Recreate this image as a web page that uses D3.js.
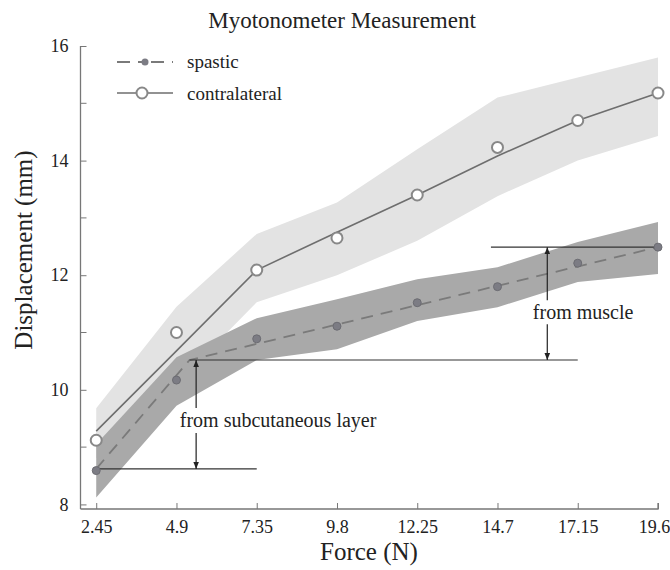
<!DOCTYPE html>
<html>
<head>
<meta charset="utf-8">
<script src="https://cdn.jsdelivr.net/npm/d3@7"></script>
<style>
    body { margin: 0; background: #fff; }
    svg text { font-family: 'Liberation Serif', 'DejaVu Serif', serif; fill: #222; }
</style>
</head>
<body>
<div id="chart"></div>
<script>
// Data
const force = [2.45, 4.9, 7.35, 9.8, 12.25, 14.7, 17.15, 19.6];
const forceTickLabels = ['2.45', '4.9', '7.35', '9.8', '12.25', '14.7', '17.15', '19.6'];
const displacementTicks = [8, 10, 12, 14, 16];
const displacementMinorTicks = [9, 11, 13, 15];

const spastic = [8.59, 10.17, 10.89, 11.11, 11.52, 11.80, 12.21, 12.49];
const spasticLow = [8.12, 9.72, 10.52, 10.71, 11.20, 11.44, 11.88, 12.02];
const spasticHigh = [9.05, 10.57, 11.25, 11.58, 11.93, 12.14, 12.58, 12.93];
const spasticFitForce = [2.45, 5.3, 19.6];
const spasticFit = [8.62, 10.52, 12.49];

const contralateral = [9.12, 11.0, 12.09, 12.65, 13.40, 14.23, 14.70, 15.18];
const contraLow = [8.8, 10.1, 11.53, 12.0, 12.6, 13.38, 14.0, 14.43];
const contraHigh = [9.68, 11.45, 12.72, 13.27, 14.2, 15.1, 15.45, 15.8];
const contraFit = [9.28, 10.68, 12.09, 12.75, 13.40, 14.08, 14.70, 15.18];

// annotation guides (force, displacement)
const subcutLine = { from: 2.45, to: 7.35, level: 8.62 };
const kneeLine = { from: 5.3, to: 17.15, level: 10.52 };
const muscleLine = { from: 14.5, to: 19.6, level: 12.49 };
const subcutArrow = { at: 5.5, top: 10.52, bottom: 8.62, label: 'from subcutaneous layer', labelAt: 5.0, labelLevel: 9.35 };
const muscleArrow = { at: 16.22, top: 12.49, bottom: 10.52, label: 'from muscle', labelAt: 15.78, labelLevel: 11.23 };

const SERIF = "'Liberation Serif', 'DejaVu Serif', serif";
const W = 670, H = 570;
const svg = d3.select('#chart').append('svg')
    .attr('width', W)
    .attr('height', H)
    .attr('font-family', SERIF);

const x = d3.scaleLinear().domain([1.97, 19.6]).range([80.5, 658]);
const y = d3.scaleLinear().domain([7.92, 16]).range([509, 46]);

const defs = svg.append('defs');
defs.append('marker')
    .attr('id', 'arrow-end')
    .attr('viewBox', '0 -5 10 10')
    .attr('refX', 10)
    .attr('refY', 0)
    .attr('markerWidth', 7)
    .attr('markerHeight', 7)
    .attr('markerUnits', 'userSpaceOnUse')
    .attr('orient', 'auto')
    .append('path')
    .attr('d', 'M0,-4L10,0L0,4Z')
    .attr('fill', '#222');

// bands
const band = (low, high) => d3.area()
    .x((d, i) => x(force[i]))
    .y0((d, i) => y(low[i]))
    .y1((d, i) => y(high[i]))(force);

svg.append('path').attr('d', band(contraLow, contraHigh)).attr('fill', '#e3e3e3');
svg.append('path').attr('d', band(spasticLow, spasticHigh)).attr('fill', '#a9a9a9');

// fitted lines
const line = d3.line().x(d => x(d[0])).y(d => y(d[1]));
svg.append('path')
    .attr('d', line(force.map((f, i) => [f, contraFit[i]])))
    .attr('fill', 'none')
    .attr('stroke', '#6e6e6e')
    .attr('stroke-width', 1.6);
svg.append('path')
    .attr('d', line(spasticFitForce.map((f, i) => [f, spasticFit[i]])))
    .attr('fill', 'none')
    .attr('stroke', '#7a7a7a')
    .attr('stroke-width', 1.8)
    .attr('stroke-dasharray', '12,8');

// guide lines
[subcutLine, kneeLine, muscleLine].forEach(g => {
    svg.append('line')
        .attr('x1', x(g.from)).attr('x2', x(g.to))
        .attr('y1', y(g.level)).attr('y2', y(g.level))
        .attr('stroke', '#333')
        .attr('stroke-width', 1.2);
});

// markers
svg.selectAll('.spastic-dot')
    .data(force)
    .join('circle')
    .attr('cx', d => x(d))
    .attr('cy', (d, i) => y(spastic[i]))
    .attr('r', 4)
    .attr('fill', '#7c7c84')
    .attr('stroke', '#6c6c72')
    .attr('stroke-width', 1);

svg.selectAll('.contra-dot')
    .data(force)
    .join('circle')
    .attr('cx', d => x(d))
    .attr('cy', (d, i) => y(contralateral[i]))
    .attr('r', 5.5)
    .attr('fill', '#fff')
    .attr('stroke', '#888')
    .attr('stroke-width', 2);

// arrows with labels
[subcutArrow, muscleArrow].forEach(a => {
    const label = svg.append('text')
        .attr('x', x(a.labelAt))
        .attr('y', y(a.labelLevel))
        .attr('font-size', 20)
        .text(a.label);
    const box = label.node().getBBox();
    const ax = x(a.at);
    svg.append('line')
        .attr('x1', ax).attr('x2', ax)
        .attr('y1', box.y - 1).attr('y2', y(a.top))
        .attr('stroke', '#222').attr('stroke-width', 1.2)
        .attr('marker-end', 'url(#arrow-end)');
    svg.append('line')
        .attr('x1', ax).attr('x2', ax)
        .attr('y1', box.y + box.height + 1).attr('y2', y(a.bottom))
        .attr('stroke', '#222').attr('stroke-width', 1.2)
        .attr('marker-end', 'url(#arrow-end)');
});

// axes
const xAxis = svg.append('g')
    .attr('transform', `translate(0,${y.range()[0]})`)
    .call(d3.axisBottom(x)
        .tickValues(force)
        .tickFormat((d, i) => forceTickLabels[i])
        .tickSize(-6)
        .tickPadding(11));

const yAxis = svg.append('g')
    .attr('transform', `translate(${x.range()[0]},0)`)
    .call(d3.axisLeft(y)
        .tickValues(displacementTicks)
        .tickFormat(d3.format('d'))
        .tickSize(-6)
        .tickPadding(12));

yAxis.selectAll('.minor')
    .data(displacementMinorTicks)
    .join('line')
    .attr('class', 'minor')
    .attr('x1', 0).attr('x2', 6)
    .attr('y1', d => y(d)).attr('y2', d => y(d))
    .attr('stroke', '#777');

[xAxis, yAxis].forEach(ax => {
    ax.attr('font-family', SERIF);
    ax.select('.domain').attr('stroke', '#777').attr('stroke-width', 1.3);
    ax.selectAll('.tick line').attr('stroke', '#777');
    ax.selectAll('.tick text')
        .attr('font-size', 18)
        .attr('fill', '#222');
});
xAxis.selectAll('.tick text').filter((d, i) => i === force.length - 1).attr('dx', -4);
xAxis.select('.domain').attr('d', `M${x.range()[0]},0H${x.range()[1]}V-6`);
yAxis.select('.domain').attr('d', `M0,${y.range()[1]}H0V${y.range()[0]}`);

// titles
svg.append('text')
    .attr('x', 342).attr('y', 28)
    .attr('text-anchor', 'middle')
    .attr('font-size', 23)
    .text('Myotonometer Measurement');

svg.append('text')
    .attr('x', 369).attr('y', 560)
    .attr('text-anchor', 'middle')
    .attr('font-size', 25)
    .text('Force (N)');

svg.append('text')
    .attr('transform', 'translate(32,250) rotate(-90)')
    .attr('text-anchor', 'middle')
    .attr('font-size', 25)
    .text('Displacement (mm)');

// legend
const legend = svg.append('g').attr('transform', 'translate(117,0)');
legend.append('line')
    .attr('x1', 0).attr('x2', 56).attr('y1', 62).attr('y2', 62)
    .attr('stroke', '#7a7a7a').attr('stroke-width', 1.8)
    .attr('stroke-dasharray', '13,8,8,5');
legend.append('circle')
    .attr('cx', 28).attr('cy', 62).attr('r', 3.5)
    .attr('fill', '#7c7c84');
legend.append('text')
    .attr('x', 70).attr('y', 68)
    .attr('font-size', 19)
    .text('spastic');
legend.append('line')
    .attr('x1', 0).attr('x2', 56).attr('y1', 93).attr('y2', 93)
    .attr('stroke', '#6e6e6e').attr('stroke-width', 1.6);
legend.append('circle')
    .attr('cx', 25).attr('cy', 93).attr('r', 5.5)
    .attr('fill', '#fff').attr('stroke', '#888').attr('stroke-width', 2);
legend.append('text')
    .attr('x', 70).attr('y', 100)
    .attr('font-size', 19)
    .text('contralateral');
</script>
</body>
</html>
